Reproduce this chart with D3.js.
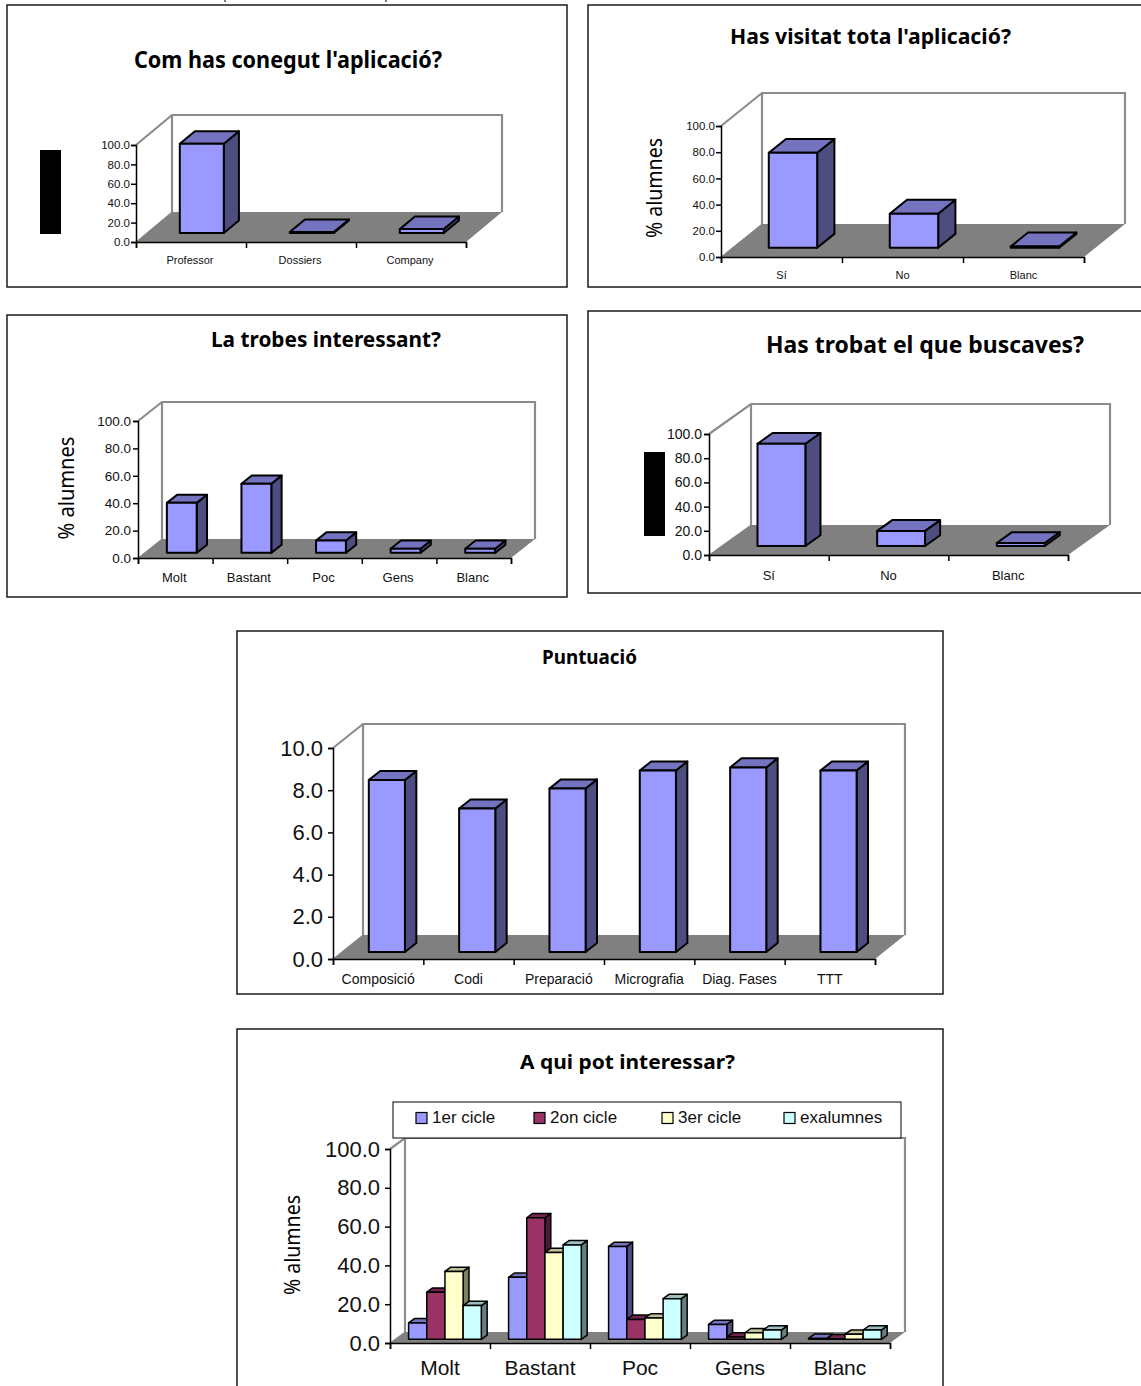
<!DOCTYPE html>
<html lang="ca">
<head>
<meta charset="utf-8">
<title>Enquesta de l'aplicació</title>
<script src="https://cdn.jsdelivr.net/npm/d3@7/dist/d3.min.js"></script>
<style>
  html, body { margin: 0; padding: 0; background: #fff; overflow: hidden; }
  svg { display: block; }
</style>
</head>
<body>
<svg id="chart" width="1141" height="1386"></svg>
<script>
// Survey answers, percentage of students unless noted
const comCategories = ["Professor", "Dossiers", "Company"];
const comValues = [92, 1, 4];

const visitaCategories = ["Sí", "No", "Blanc"];
const visitaValues = [72.5, 26, 1];

const interesCategories = ["Molt", "Bastant", "Poc", "Gens", "Blanc"];
const interesValues = [36.5, 50.5, 9, 3, 3];

const trobatCategories = ["Sí", "No", "Blanc"];
const trobatValues = [84.5, 12.5, 2.5];

// Marks out of ten
const puntuacioCategories = ["Composició", "Codi", "Preparació", "Micrografia", "Diag. Fases", "TTT"];
const puntuacioValues = [8.15, 6.8, 7.75, 8.6, 8.75, 8.6];

const quiCategories = ["Molt", "Bastant", "Poc", "Gens", "Blanc"];
const primerCicle = [8.5, 32, 47.9, 7.7, 0.5];
const segonCicle = [24.3, 62.7, 10.3, 1.2, 0.3];
const tercerCicle = [35, 44.8, 11, 3.4, 2.6];
const exalumnes = [17.4, 48.7, 21, 4.8, 4.8];

const percentTicks = [0, 20, 40, 60, 80, 100];
const markTicks = [0, 2, 4, 6, 8, 10];

const blue = { name: "1er cicle", front: "#9999FF", top: "#7373BF", side: "#4D4D80" };
const palette = [
  blue,
  { name: "2on cicle", front: "#993366", top: "#73264D", side: "#4D1A33" },
  { name: "3er cicle", front: "#FFFFCC", top: "#BFBF99", side: "#808066" },
  { name: "exalumnes", front: "#CCFFFF", top: "#99BFBF", side: "#668080" }
];

// Layout of each chart block: frame, front axes, wall offset and type sizes
const panels = [
  { frame: [7, 5, 567, 287], x0: 136, x1: 466, y0: 242, y1: 145, dx: 36, dy: 30, f: [0.3, 0.72],
    title: "Com has conegut l'aplicació?", tx: [134, 442], ty: 68, tfs: 23,
    cats: comCategories, series: [comValues], colors: [blue], ticks: percentTicks, max: 100,
    tickFs: 11.5, tickPad: 1, catFs: 11, catY: 264, catShift: -1, block: [40, 150, 21, 84] },
  { frame: [588, 5, 1160, 287], x0: 721, x1: 1084, y0: 257, y1: 126, dx: 41, dy: 33, f: [0.28, 0.7],
    title: "Has visitat tota l'aplicació?", tx: [730, 1011], ty: 44, tfs: 22,
    cats: visitaCategories, series: [visitaValues], colors: [blue], ticks: percentTicks, max: 100,
    tickFs: 11.5, tickPad: 1, catFs: 11, catY: 279, catShift: 0, yTitle: [655, 188, 100] },
  { frame: [7, 315, 567, 597], x0: 138, x1: 511, y0: 558, y1: 421, dx: 24, dy: 19, f: [0.27, 0.7],
    title: "La trobes interessant?", tx: [211, 441], ty: 347, tfs: 21,
    cats: interesCategories, series: [interesValues], colors: [blue], ticks: percentTicks, max: 100,
    tickFs: 13.5, tickPad: 2, catFs: 13, catY: 582, catShift: -1, yTitle: [67, 488, 103] },
  { frame: [588, 311, 1160, 593], x0: 709, x1: 1068, y0: 555, y1: 434, dx: 42, dy: 30, f: [0.3, 0.66],
    title: "Has trobat el que buscaves?", tx: [766, 1084], ty: 353, tfs: 23,
    cats: trobatCategories, series: [trobatValues], colors: [blue], ticks: percentTicks, max: 100,
    tickFs: 14, tickPad: 2, catFs: 13, catY: 580, catShift: 0, block: [644, 452, 21, 84] },
  { frame: [237, 631, 943, 994], x0: 333, x1: 875, y0: 959, y1: 748, dx: 30, dy: 24, f: [0.29, 0.67],
    title: "Puntuació", tx: [542, 637], ty: 664, tfs: 20,
    cats: puntuacioCategories, series: [puntuacioValues], colors: [blue], ticks: markTicks, max: 10,
    tickFs: 22, tickPad: 5, catFs: 14, catY: 984, catShift: 0 },
  { frame: [237, 1029, 943, 1400], x0: 390, x1: 890, y0: 1343, y1: 1149, dx: 15, dy: 11, f: [0.33, 0.72],
    title: "A qui pot interessar?", tx: [520, 735], ty: 1069, tfs: 20,
    cats: quiCategories, series: [primerCicle, segonCicle, tercerCicle, exalumnes], colors: palette,
    ticks: percentTicks, max: 100,
    tickFs: 22, tickPad: 5, catFs: 21, catY: 1375, catShift: 0, yTitle: [293, 1245, 100],
    legend: { box: [393, 1102, 508, 36], swatchX: [416, 534, 662, 784], size: 11, fs: 17 } }
];

const svg = d3.select("#chart");
const axisFont = "'Liberation Sans', Arial, sans-serif";
const titleFont = "'Noto Sans', sans-serif";
const polygon = pts => pts.map(p => p.join(",")).join(" ");

// Clipped descenders of the heading that sits above the first row
svg.selectAll("rect.edge").data([224, 385]).join("rect")
  .attr("class", "edge")
  .attr("x", d => d).attr("y", 0).attr("width", 2).attr("height", 2).attr("fill", "#777");

panels.forEach(p => {
  const g = svg.append("g");
  const [fx0, fy0, fx1, fy1] = p.frame;

  g.append("rect")
    .attr("x", fx0).attr("y", fy0)
    .attr("width", fx1 - fx0).attr("height", fy1 - fy0)
    .attr("fill", "#fff").attr("stroke", "#1a1a1a").attr("stroke-width", 1.5);

  g.append("text")
    .attr("x", p.tx[0]).attr("y", p.ty)
    .attr("textLength", p.tx[1] - p.tx[0])
    .attr("lengthAdjust", "spacingAndGlyphs")
    .attr("font-family", titleFont).attr("font-weight", 700)
    .attr("font-size", p.tfs).attr("fill", "#000")
    .text(p.title);

  const y = d3.scaleLinear().domain([0, p.max]).range([p.y0, p.y1]);
  const band = d3.scaleBand().domain(p.cats).range([p.x0, p.x1]);
  const slots = d3.scaleLinear().domain([0, p.cats.length]).range([p.x0, p.x1]);
  const wx = p.x0 + p.dx;
  const wallTop = p.y1 - p.dy;
  const wallBottom = p.y0 - p.dy;

  // Floor, then the grey outline of side and back walls
  g.append("polygon")
    .attr("points", polygon([[p.x0, p.y0], [p.x1, p.y0], [p.x1 + p.dx, wallBottom], [wx, wallBottom]]))
    .attr("fill", "#808080");
  g.append("path")
    .attr("d", d3.line()([[p.x0, p.y1], [wx, wallTop], [p.x1 + p.dx, wallTop], [p.x1 + p.dx, wallBottom]]))
    .attr("fill", "none").attr("stroke", "#8c8c8c").attr("stroke-width", 2.2);
  g.append("path")
    .attr("d", d3.line()([[wx, wallTop], [wx, wallBottom]]))
    .attr("fill", "none").attr("stroke", "#8c8c8c").attr("stroke-width", 2.2);
  g.append("path")
    .attr("d", d3.line()([[p.x0, p.y0], [wx, wallBottom]]))
    .attr("fill", "none").attr("stroke", "#808080").attr("stroke-width", 1);

  // Bars as front, top and side faces sitting inside the floor depth
  const count = p.series.length;
  const barW = band.bandwidth() / (count + 1.5);
  const depth = p.f[1] - p.f[0];
  const ox = p.f[0] * p.dx, oy = p.f[0] * p.dy;
  const bx = depth * p.dx, by = depth * p.dy;

  p.cats.forEach((cat, i) => {
    p.series.forEach((values, s) => {
      const c = p.colors[s];
      const left = band(cat) + 0.75 * barW + s * barW + ox;
      const right = left + barW;
      const top = y(values[i]) - oy;
      const base = y(0) - oy;
      const bar = g.append("g").attr("stroke", "#000")
        .attr("stroke-width", count > 1 ? 1.5 : 2).attr("stroke-linejoin", "round");
      bar.append("polygon")
        .attr("points", polygon([[right, top], [right + bx, top - by], [right + bx, base - by], [right, base]]))
        .attr("fill", c.side);
      bar.append("polygon")
        .attr("points", polygon([[left, top], [left + bx, top - by], [right + bx, top - by], [right, top]]))
        .attr("fill", c.top);
      bar.append("rect")
        .attr("x", left).attr("y", top)
        .attr("width", barW).attr("height", Math.max(base - top, 0))
        .attr("fill", c.front);
    });
  });

  // Front axes
  const yAxis = g.append("g").attr("transform", `translate(${p.x0},0)`)
    .call(d3.axisLeft(y).tickValues(p.ticks).tickFormat(d3.format(".1f")).tickSize(5).tickPadding(p.tickPad));
  yAxis.selectAll("path, line").attr("stroke", "#000").attr("stroke-width", 1.5);
  yAxis.selectAll("text").attr("font-family", axisFont).attr("font-size", p.tickFs).attr("fill", "#111");

  const xAxis = g.append("g").attr("transform", `translate(0,${p.y0})`)
    .call(d3.axisBottom(slots).tickValues(d3.range(p.cats.length + 1)).tickFormat("").tickSize(6));
  xAxis.selectAll("path, line").attr("stroke", "#000").attr("stroke-width", 1.5);

  g.append("g").selectAll("text").data(p.cats).join("text")
    .attr("x", d => band(d) + band.bandwidth() / 2 + p.catShift)
    .attr("y", p.catY)
    .attr("text-anchor", "middle")
    .attr("font-family", axisFont).attr("font-size", p.catFs).attr("fill", "#111")
    .text(d => d);

  if (p.yTitle) {
    const [tx, ty, len] = p.yTitle;
    g.append("text")
      .attr("transform", `translate(${tx + 7},${ty}) rotate(-90)`)
      .attr("text-anchor", "middle")
      .attr("textLength", len).attr("lengthAdjust", "spacingAndGlyphs")
      .attr("font-family", titleFont).attr("font-size", 22).attr("fill", "#000")
      .text("% alumnes");
  }

  if (p.block) {
    const [bxPos, byPos, bw, bh] = p.block;
    g.append("rect").attr("x", bxPos).attr("y", byPos).attr("width", bw).attr("height", bh).attr("fill", "#000");
  }

  if (p.legend) {
    const l = p.legend;
    g.append("rect")
      .attr("x", l.box[0]).attr("y", l.box[1]).attr("width", l.box[2]).attr("height", l.box[3])
      .attr("fill", "#fff").attr("stroke", "#000").attr("stroke-width", 1);
    const cy = l.box[1] + l.box[3] / 2 - 2.5;
    p.colors.forEach((c, s) => {
      g.append("rect")
        .attr("x", l.swatchX[s]).attr("y", cy - l.size / 2 + 0.5)
        .attr("width", l.size).attr("height", l.size)
        .attr("fill", c.front).attr("stroke", "#000").attr("stroke-width", 1.2);
      g.append("text")
        .attr("x", l.swatchX[s] + l.size + 5).attr("y", cy + l.fs * 0.35)
        .attr("font-family", axisFont).attr("font-size", l.fs).attr("fill", "#111")
        .text(c.name);
    });
  }
});
</script>
</body>
</html>
